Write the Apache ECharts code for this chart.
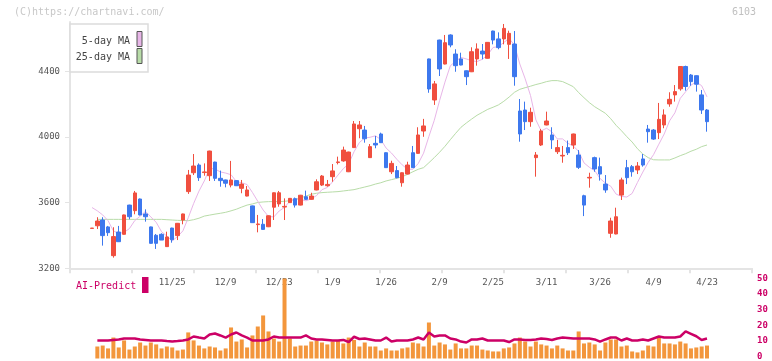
<!DOCTYPE html>
<html><head><meta charset="utf-8">
<script src="https://cdn.jsdelivr.net/npm/echarts@6/dist/echarts.min.js"></script>
<style>html,body{margin:0;padding:0;background:#fff}#c{width:772px;height:361px}</style>
</head><body><div id="c"></div>
<script>
const dates = ['10/31','11/4','11/5','11/6','11/7','11/10','11/11','11/12','11/13','11/14','11/17','11/18','11/19','11/20','11/21','11/25','11/26','11/27','11/28','12/1','12/2','12/3','12/4','12/5','12/8','12/9','12/10','12/11','12/12','12/15','12/16','12/17','12/18','12/19','12/22','12/23','12/24','12/25','12/26','12/29','12/30','1/5','1/6','1/7','1/8','1/9','1/13','1/14','1/15','1/16','1/19','1/20','1/21','1/22','1/23','1/26','1/27','1/28','1/29','1/30','2/2','2/3','2/4','2/5','2/6','2/9','2/10','2/12','2/13','2/16','2/17','2/18','2/19','2/20','2/24','2/25','2/26','2/27','3/2','3/3','3/4','3/5','3/6','3/9','3/10','3/11','3/12','3/13','3/16','3/17','3/18','3/19','3/23','3/24','3/25','3/26','3/27','3/30','3/31','4/1','4/2','4/3','4/6','4/7','4/8','4/9','4/10','4/13','4/14','4/15','4/16','4/17','4/20','4/21','4/22','4/23'];
const labelDates = ['11/25','12/9','12/23','1/9','1/26','2/9','2/25','3/11','3/26','4/9','4/23'];
const openP = [3443,3459,3494,3452,3277,3421,3407,3585,3551,3622,3531,3452,3401,3407,3332,3445,3399,3494,3667,3782,3829,3783,3764,3847,3748,3738,3707,3734,3687,3640,3580,3466,3468,3453,3572,3592,3573,3600,3624,3585,3636,3620,3677,3707,3703,3758,3844,3854,3788,3935,4050,4042,3874,3961,4018,3904,3788,3795,3721,3774,3904,3900,4036,4475,4225,4590,4444,4621,4505,4475,4403,4397,4475,4523,4479,4645,4597,4597,4564,4566,4158,4164,4093,3874,3951,4073,4012,3910,3884,3935,3951,3890,3642,3750,3874,3819,3713,3413,3409,3646,3813,3819,3799,3866,4048,4042,4026,4073,4201,4256,4293,4429,4377,4373,4256,4164];
const closeP = [3445,3488,3399,3417,3393,3362,3525,3514,3659,3525,3514,3352,3352,3372,3391,3374,3474,3531,3768,3823,3752,3787,3914,3748,3734,3718,3738,3703,3713,3677,3478,3470,3437,3520,3660,3660,3577,3626,3585,3645,3620,3640,3727,3762,3711,3793,3848,3920,3908,4079,4073,3989,3941,3951,3965,3813,3839,3752,3782,3829,3813,4012,4067,4292,4323,4414,4574,4560,4434,4438,4367,4519,4536,4505,4576,4590,4544,4661,4631,4367,4018,4093,4150,3890,4036,4097,3982,3935,3888,3904,4018,3815,3585,3754,3805,3774,3677,3488,3514,3738,3752,3788,3823,3829,4032,3987,4107,4134,4229,4276,4429,4307,4337,4321,4164,4093];
const lowP = [3443,3439,3338,3397,3265,3360,3405,3498,3529,3522,3484,3350,3318,3372,3330,3356,3372,3468,3653,3768,3732,3764,3732,3732,3697,3693,3693,3701,3657,3638,3476,3419,3435,3451,3494,3575,3494,3598,3570,3583,3616,3618,3675,3701,3697,3727,3833,3849,3786,3933,3992,3965,3872,3931,3963,3811,3774,3748,3697,3772,3811,3898,4001,4269,4195,4371,4442,4546,4397,4436,4316,4395,4434,4473,4477,4564,4534,4564,4475,4312,3971,4042,4062,3758,3945,4071,3927,3896,3843,3890,3927,3805,3518,3691,3788,3734,3660,3386,3407,3616,3713,3758,3774,3819,3965,3982,3987,4053,4184,4215,4282,4282,4312,4276,4140,4032];
const highP = [3445,3511,3511,3458,3450,3458,3527,3587,3671,3625,3559,3454,3409,3413,3423,3447,3476,3533,3799,3896,3839,3839,3916,3849,3795,3740,3854,3736,3738,3701,3582,3525,3500,3522,3662,3671,3626,3628,3631,3647,3673,3660,3742,3768,3738,3835,3880,3941,3910,4097,4097,4067,3957,4006,4026,3906,3855,3823,3784,3849,3945,4059,4110,4477,4341,4592,4621,4625,4534,4513,4405,4546,4570,4566,4578,4647,4637,4688,4647,4645,4231,4215,4178,3908,4048,4154,4059,3982,3945,3978,4020,3920,3648,3782,3880,3874,3768,3508,3569,3752,3860,3829,3847,3896,4073,4048,4207,4168,4272,4316,4431,4434,4383,4375,4286,4170];
const ma5 = [3570,3550,3525,3490,3428,3412,3419,3442,3491,3517,3547,3513,3480,3423,3396,3368,3393,3428,3508,3594,3670,3732,3809,3805,3787,3780,3770,3728,3721,3710,3662,3608,3555,3516,3513,3549,3571,3609,3622,3619,3611,3623,3643,3679,3692,3727,3768,3807,3836,3910,3966,3994,3998,4007,3984,3932,3902,3864,3830,3803,3803,3838,3901,4003,4101,4222,4334,4433,4461,4484,4475,4464,4459,4473,4501,4545,4550,4575,4600,4559,4444,4354,4252,4104,4037,4053,4031,3988,3988,3961,3945,3912,3842,3815,3795,3747,3719,3700,3652,3638,3634,3656,3723,3786,3845,3892,3956,4018,4098,4147,4235,4275,4316,4334,4312,4244];
const ma25 = [null,3498,3498,3498,3498,3498,3498,3498,3498,3498,3498,3498,3498,3498,3496,3494,3492,3491,3490,3496,3505,3518,3524,3530,3535,3541,3550,3560,3573,3585,3592,3601,3604,3606,3606,3606,3608,3612,3620,3628,3640,3651,3657,3661,3663,3665,3667,3671,3675,3679,3687,3695,3703,3713,3721,3732,3740,3748,3758,3772,3788,3803,3813,3843,3874,3907,3943,3983,4022,4059,4085,4109,4132,4150,4168,4181,4195,4217,4243,4272,4290,4300,4309,4319,4327,4337,4343,4343,4337,4322,4306,4270,4239,4209,4184,4164,4144,4111,4071,4038,4002,3969,3928,3896,3874,3861,3860,3860,3860,3872,3886,3898,3913,3925,3941,3951];
const volume = [null,7.5,8.1,6.3,13.1,6.9,11.3,5.6,7.5,10,8.1,10,8.8,6.3,7.5,6.9,5,5.6,16.3,11.3,8.1,6.3,7.5,6.9,5,6.3,19.4,10.6,11.9,6.9,14.4,20,26.9,16.9,12.5,10.6,50,12.5,7.5,8.1,8.1,10.6,11.3,10,8.8,10.6,11.3,9.4,13.1,11.6,7.5,10,7.5,7.5,5,6.3,5,5,6.3,6.9,10,9.4,7.5,22.5,8.1,10,8.8,5.6,9.4,6.3,6.3,8.1,8.1,5.6,5,4.4,4.4,6.3,6.9,9.4,13.1,10.6,7.5,10.6,8.8,8.1,6.3,8.1,6.3,5,5,16.9,9.4,10,8.8,5,10,11.9,11.9,7.5,8.1,4.4,3.8,5,8.1,7.5,13.1,9.4,9.4,8.8,10.6,9.4,6.3,6.9,7.5,8.1];
const aiPredict = [null,11.25,11.25,11.25,11.6,11.9,12.5,12.5,12.5,11.9,11.6,11.25,11.25,11.25,10.9,10.6,10.9,11.25,11.9,13.75,13.1,12.5,15,15.6,14.4,13.1,15,16.25,14.4,13.1,11.25,11.25,11.25,11.9,13.75,13.1,13.1,13.1,13.1,13.1,14.4,12.5,11.9,11.9,11.6,11.25,11.25,11.6,10.3,13.6,12.2,12.5,11.9,11.25,11.25,13.1,10.6,11.25,11.25,11.25,11.9,13.1,11.9,16.25,13.75,14.4,14.4,12.5,11.9,10.6,10,11.9,11.9,12.5,11.25,11.25,11.25,11.25,10.3,11.9,11.9,11.6,11.6,11.9,12.5,12.2,11.6,12.5,13.1,12.8,12.5,12.5,12.5,12.5,11.9,10.6,11.9,13.1,13.1,11.25,12.5,11.25,11.25,11.9,11.25,12.5,13.75,13.1,13.1,13.1,13.75,16.9,15.4,13.9,11.6,12.5];
const priceTicks = [3200,3600,4000,4400];

const RED = '#f04f3f', BLUE = '#3d78ee';
const PINK = '#e8b6e8', GREEN = '#b8dca8', ORANGE = '#f3963c', CRIMSON = '#cc0066';
const AXIS = '#e4e4e4';
const MONO = 'DejaVu Sans Mono';
const candles = dates.map((d, i) => [openP[i], closeP[i], lowP[i], highP[i]]);

const chart = echarts.init(document.getElementById('c'), null, {renderer: 'canvas'});
chart.setOption({
  animation: false,
  backgroundColor: '#fff',
  grid: [
    {left: 70, width: 682, top: 22, height: 246.3},
    {left: 92, width: 615, top: 22, height: 246.3},
    {left: 92, width: 615, top: 278.5, height: 80},
    {left: 70, width: 682, top: 278.5, height: 80}
  ],
  xAxis: [
    {gridIndex: 0, type: 'value', min: 0, max: 11, interval: 1,
     axisLine: {show: true, lineStyle: {color: AXIS, width: 2}},
     axisTick: {show: true, length: 5, lineStyle: {color: AXIS, width: 2}},
     axisLabel: {show: false}, splitLine: {show: false}},
    {gridIndex: 1, type: 'category', data: dates, boundaryGap: false,
     axisLine: {show: false}, axisTick: {show: false}, splitLine: {show: false},
     axisLabel: {interval: (i, v) => labelDates.includes(v), margin: 10, color: '#555', fontSize: 9, fontFamily: MONO}},
    {gridIndex: 2, type: 'category', data: dates, boundaryGap: false, show: false},
    {gridIndex: 3, type: 'value', min: 0, max: 1, show: false}
  ],
  yAxis: [
    {gridIndex: 0, type: 'value', min: 3200, max: 4700,
     axisLine: {show: true, lineStyle: {color: AXIS, width: 2}},
     axisTick: {show: true, length: 5, customValues: priceTicks, lineStyle: {color: AXIS, width: 1}},
     axisLabel: {customValues: priceTicks, formatter: v => String(v), margin: 10, color: '#555', fontSize: 9, fontFamily: MONO},
     splitLine: {show: false}},
    {gridIndex: 1, type: 'value', min: 3200, max: 4700, show: false},
    {gridIndex: 2, type: 'value', min: 0, max: 50, show: false},
    {gridIndex: 3, type: 'value', min: 0, max: 50, interval: 10, position: 'right',
     axisLine: {show: false}, axisTick: {show: false}, splitLine: {show: false},
     axisLabel: {margin: 5, color: CRIMSON, fontSize: 9, fontFamily: MONO, fontWeight: 'bold'}}
  ],
  series: [
    {type: 'line', name: '25-day MA', xAxisIndex: 1, yAxisIndex: 1, data: ma25, symbol: 'none',
     lineStyle: {color: GREEN, width: 1}, z: 2},
    {type: 'line', name: '5-day MA', xAxisIndex: 1, yAxisIndex: 1, data: ma5, symbol: 'none',
     lineStyle: {color: PINK, width: 1}, z: 2},
    {type: 'candlestick', xAxisIndex: 1, yAxisIndex: 1, data: candles, barWidth: 4, clip: false,
     itemStyle: {color: RED, color0: BLUE, borderColor: RED, borderColor0: BLUE, borderWidth: 1}, z: 3},
    {type: 'bar', xAxisIndex: 2, yAxisIndex: 2, data: volume, barWidth: 4, clip: false,
     itemStyle: {color: ORANGE}, z: 2},
    {type: 'line', name: 'AI-Predict', xAxisIndex: 2, yAxisIndex: 2, data: aiPredict, symbol: 'none',
     lineStyle: {color: CRIMSON, width: 2.5}, z: 3}
  ],
  graphic: [
    {type: 'text', left: 14, top: 7, style: {text: '(C)https://chartnavi.com/', fill: '#c8c8c8', font: '10px ' + MONO}},
    {type: 'text', right: 16, top: 7, style: {text: '6103', fill: '#c0c0c0', font: '10px ' + MONO}},
    {type: 'rect', shape: {x: 70, y: 24, width: 78, height: 48}, style: {fill: '#fff', stroke: '#dcdcdc', lineWidth: 1.5}, z: 100},
    {type: 'text', x: 130, y: 41, style: {text: '5-day MA', fill: '#444', font: '10px ' + MONO, align: 'right', verticalAlign: 'middle'}, z: 101},
    {type: 'text', x: 130, y: 57, style: {text: '25-day MA', fill: '#444', font: '10px ' + MONO, align: 'right', verticalAlign: 'middle'}, z: 101},
    {type: 'rect', shape: {x: 137, y: 31.5, width: 5, height: 15}, style: {fill: PINK, stroke: '#555', lineWidth: 1}, z: 101},
    {type: 'rect', shape: {x: 137, y: 48.5, width: 5, height: 15}, style: {fill: GREEN, stroke: '#555', lineWidth: 1}, z: 101},
    {type: 'text', x: 76, y: 286, style: {text: 'AI-Predict', fill: CRIMSON, font: '10px ' + MONO, verticalAlign: 'middle'}, z: 101},
    {type: 'rect', shape: {x: 142, y: 277, width: 6.5, height: 16}, style: {fill: CRIMSON}, z: 101}
  ]
});
</script>
</body></html>
